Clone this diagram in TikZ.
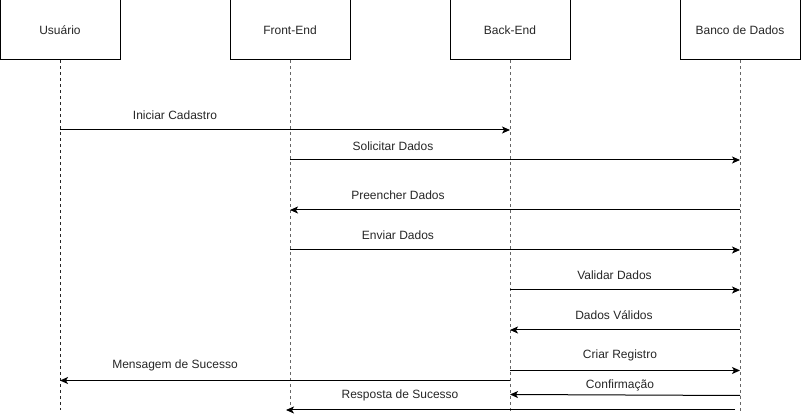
\documentclass[tikz,border=0pt]{standalone}
\usepackage{fontspec}
\setmainfont{Liberation Sans}
\usetikzlibrary{arrows.meta}
\begin{document}
\begin{tikzpicture}[x=1pt,y=-1pt,
  font=\fontsize{12}{14}\selectfont,
  actor/.style={draw, line width=1pt, minimum width=120pt, minimum height=60pt, inner sep=0pt, text=black!85},
  lifeline/.style={line width=1pt, dash pattern=on 3pt off 3pt, draw=black!60},
  msg/.style={line width=1pt, -{Stealth[length=8pt,width=7pt,inset=2pt]}},
  lbl/.style={inner sep=0pt, text=black!85}]
\useasboundingbox (0,0) rectangle (801,419);
% actors
\node[actor] (u) at (60,30) {Usuário};
\node[actor] (f) at (290,30) {Front-End};
\node[actor] (b) at (510,30) {Back-End};
\node[actor] (d) at (740,30) {Banco de Dados};
% lifeline ends
\coordinate (ue) at (60,410);
\coordinate (fe) at (290,411);
\coordinate (be) at (510,411);
\coordinate (de) at (740,411);
\draw[lifeline, draw=black!85] (u.south) -- (ue);
\draw[lifeline] (f.south) -- (fe);
\draw[lifeline] (b.south) -- (be);
\draw[lifeline] (d.south) -- (de);
% message points
\coordinate (m1s) at (60,130);  \coordinate (m1e) at (510,130);
\coordinate (m2s) at (290,160); \coordinate (m2e) at (740,160);
\coordinate (m3s) at (740,210); \coordinate (m3e) at (290,210);
\coordinate (m4s) at (290,250); \coordinate (m4e) at (740,250);
\coordinate (m5s) at (510,290); \coordinate (m5e) at (740,290);
\coordinate (m6s) at (740,330); \coordinate (m6e) at (510,330);
\coordinate (m7s) at (510,370.5); \coordinate (m7e) at (740,370.5);
\coordinate (m8s) at (510,380.5); \coordinate (m8e) at (60,380.5);
\coordinate (m9s) at (740,395.5); \coordinate (m9e) at (510,394.5);
\coordinate (m10s) at (735,410); \coordinate (m10e) at (286,410);
\draw[msg] (m1s) -- (m1e);
\draw[msg] (m2s) -- (m2e);
\draw[msg] (m3s) -- (m3e);
\draw[msg] (m4s) -- (m4e);
\draw[msg] (m5s) -- (m5e);
\draw[msg] (m6s) -- (m6e);
\draw[msg] (m7s) -- (m7e);
\draw[msg] (m8s) -- (m8e);
\draw[msg] (m9s) -- (m9e);
\draw[msg] (m10s) -- (m10e);
% labels
\node[lbl] (l1) at (175,115) {Iniciar Cadastro};
\node[lbl] (l2) at (393,146) {Solicitar Dados};
\node[lbl] (l3) at (398,195) {Preencher Dados};
\node[lbl] (l4) at (398,235) {Enviar Dados};
\node[lbl] (l5) at (614.5,275) {Validar Dados};
\node[lbl] (l6) at (614,315) {Dados Válidos};
\node[lbl] (l7) at (620,355) {Criar Registro};
\node[lbl] (l8) at (175,365) {Mensagem de Sucesso};
\node[lbl] (l9) at (620,385) {Confirmação};
\node[lbl] (l10) at (400,395) {Resposta de Sucesso};
\end{tikzpicture}
\end{document}
